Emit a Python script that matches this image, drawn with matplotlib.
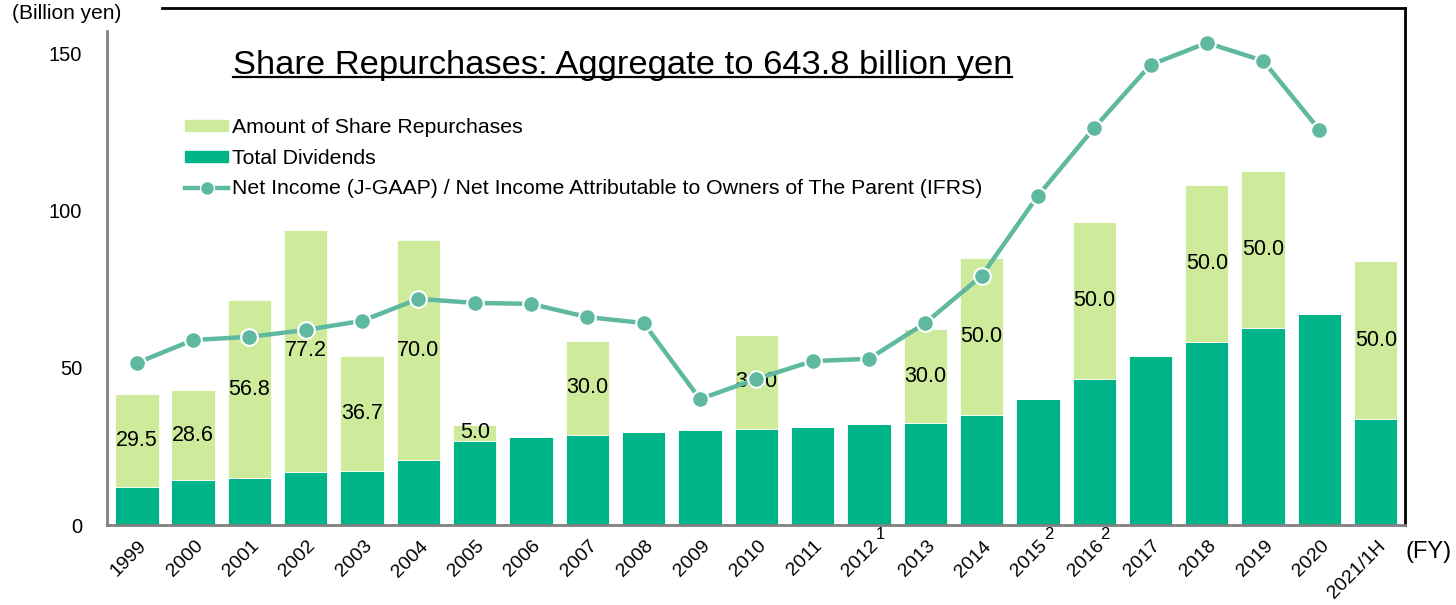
import numpy as np
import matplotlib.pyplot as plt
import matplotlib.transforms as mtransforms
from matplotlib.lines import Line2D
from matplotlib.patches import Patch

plt.rcParams['font.family'] = ['Liberation Sans', 'DejaVu Sans']

years = ['1999', '2000', '2001', '2002', '2003', '2004', '2005', '2006',
         '2007', '2008', '2009', '2010', '2011', '2012', '2013', '2014',
         '2015', '2016', '2017', '2018', '2019', '2020', '2021/1H']
dividends = [12.1, 14.3, 14.9, 16.8, 17.1, 20.7, 26.9, 27.9, 28.7, 29.6, 30.3,
             30.6, 31.2, 32.2, 32.4, 35.0, 40.0, 46.5, 53.8, 58.3, 62.6, 67.1, 33.9]
buybacks = [29.5, 28.6, 56.8, 77.2, 36.7, 70.0, 5.0, 0, 30.0, 0, 0,
            30.0, 0, 0, 30.0, 50.0, 0, 50.0, 0, 50.0, 50.0, 0, 50.0]
net_income = [51.6, 58.9, 59.9, 62.1, 65.0, 72.0, 70.7, 70.4, 66.2, 64.3, 40.1,
              46.5, 52.2, 52.9, 64.3, 79.3, 104.8, 126.4, 146.5, 153.5, 147.8, 125.8]
footnotes = {'2012': '1', '2015': '2', '2016': '2'}

light = '#cdeb9b'
dark = '#00b48a'
teal = '#5fb9a0'

fig = plt.figure(figsize=(14.56, 6.05), dpi=100)
ax = fig.add_axes([0.0735, 0.1322, 0.8915, 0.8546])

x = np.arange(len(years))
w = 0.77
ax.bar(x, dividends, w, color=dark, edgecolor='white', linewidth=0.6, zorder=2)
ax.bar(x, buybacks, w, bottom=dividends, color=light, edgecolor='white',
       linewidth=0.6, zorder=2)
ax.plot(x[:len(net_income)], net_income, color=teal, lw=3.2, marker='o',
        ms=12, mfc=teal, mec='white', mew=1.5, zorder=4)

for i, (d, b) in enumerate(zip(dividends, buybacks)):
    if b > 0:
        ax.text(i, d + b / 2, f'{b:.1f}', ha='center', va='center',
                fontsize=15.5, zorder=3)

ax.set_xlim(-0.53, len(years) - 1 + 0.52)
ax.set_ylim(0, 164.6)
ax.set_yticks([0, 50, 100, 150])
ax.tick_params(axis='y', length=0, labelsize=14.5, pad=18)
ax.tick_params(axis='x', length=0, labelsize=14, pad=9)
ax.set_xticks(x)
ax.set_xticklabels(years, rotation=45, ha='right', va='top',
                   rotation_mode='anchor')
shift = mtransforms.ScaledTranslation(1 / 100, 0, fig.dpi_scale_trans)
for lbl in ax.get_xticklabels():
    lbl.set_transform(lbl.get_transform() + shift)

for name in ['left', 'bottom']:
    ax.spines[name].set_color('#808080')
    ax.spines[name].set_linewidth(2)
ax.spines['left'].set_bounds(0, 157.3)
ax.spines['top'].set_bounds(0.44, len(years) - 1 + 0.52)
ax.spines['top'].set_linewidth(2)
ax.spines['right'].set_linewidth(2)

for i, yr in enumerate(years):
    if yr in footnotes:
        ax.annotate(footnotes[yr], xy=(i, 0), xytext=(8, -7),
                    textcoords='offset points', fontsize=12,
                    ha='center', va='center', annotation_clip=False)

fig.text(0.046, 0.977, '(Billion yen)', fontsize=15, ha='center', va='center')
fig.text(0.981, 0.0876, '(FY)', fontsize=17, ha='center', va='center')

title = fig.text(0.16, 0.8777, 'Share Repurchases: Aggregate to 643.8 billion yen',
                 fontsize=24.8, ha='left', va='baseline')
fig.canvas.draw()
bb = title.get_window_extent().transformed(fig.transFigure.inverted())
fig.add_artist(Line2D([bb.x0, bb.x1], [0.872, 0.872],
                      color='black', lw=1.6, transform=fig.transFigure))

handles = [Patch(color=light),
           Patch(color=dark),
           Line2D([], [], color=teal, lw=3.2, marker='o', ms=10, mfc=teal,
                  mec='white')]
labels = ['Amount of Share Repurchases', 'Total Dividends',
          'Net Income (J-GAAP) / Net Income Attributable to Owners of The Parent (IFRS)']
ax.legend(handles, labels, loc='upper left', bbox_to_anchor=(0.060, 0.787),
          frameon=False, fontsize=15.3, handlelength=2.05, handleheight=0.45,
          handletextpad=0.15, labelspacing=0.55, borderaxespad=0, borderpad=0)

fig.savefig('out.png', dpi=100)
